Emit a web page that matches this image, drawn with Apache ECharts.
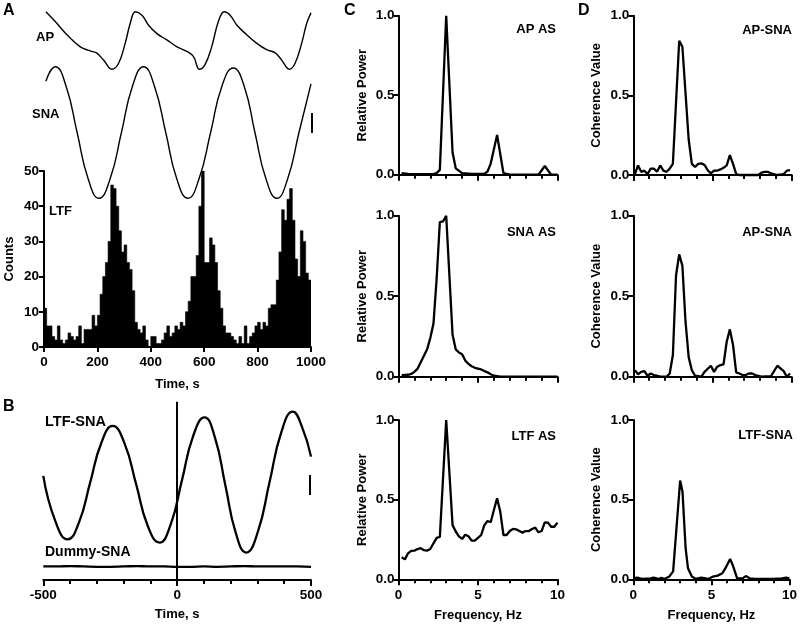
<!DOCTYPE html>
<html><head><meta charset="utf-8">
<script src="https://cdn.jsdelivr.net/npm/echarts@6/dist/echarts.min.js"></script>
<style>html,body{margin:0;padding:0;background:#fff}#c{width:800px;height:625px}</style>
</head><body><div id="c"></div>
<script>
// ---- Panel A: traces (time in s, arbitrary units) ----
const apTime = [7,42,86,136,173,198,223,254,279,304,323,342,367,391,423,460,498,535,560,582,603,628,653,675,697,722,759,797,834,865,890,919,940,965,984,1000];
const apValue = [100,83,60,39,32,28,16,0,10,45,80,100,94,77,62,51,39,31,22,0,8,39,83,100,94,77,60,45,34,29,16,0,10,45,80,98];
const snaTime = [7,42,83,124,165,206,248,290,331,373,414,456,497,539,581,624,666,709,750,790,831,872,913,955,1000];
const snaValue = [89,100,85,50,15,0,15,50,85,100,85,50,15,0,15,50,85,99,85,50,15,0,15,50,87];
// ---- Panel A: LTF histogram, 10 s bins ----
const binWidth = 10;
const ltfCounts = [
  11,6,6,3,2,6,2,1,2,4,3,2,3,6,1,5,5,5,9,6,
  9,15,20,24,30,46,45,40,33,27,29,24,22,16,7,5,4,6,2,0,
  3,3,1,1,2,4,6,3,4,6,5,7,6,10,13,20,20,26,40,50,
  24,24,31,29,24,16,11,6,4,4,3,2,1,3,1,6,1,3,4,6,
  7,5,7,6,11,12,12,19,27,39,36,42,45,36,25,20,33,30,21,19
];
const histTicks = [0,200,400,600,800,1000];
// ---- Panel B: cross-correlation ----
const lagTime = [-500,-455,-409,-367,-325,-283,-241,-197,-153,-110,-66,-24,18,60,102,141,180,219,258,301,345,389,432,466,500];
const ltfSnaCorr = [0.042,-0.085,-0.136,-0.089,0.023,0.135,0.182,0.134,0.018,-0.098,-0.145,-0.094,0.03,0.154,0.206,0.150,0.016,-0.118,-0.173,-0.116,0.024,0.164,0.222,0.180,0.096];
const dummyTime = [-500,-450,-400,-350,-300,-250,-200,-150,-100,-50,0,50,100,150,200,250,300,350,400,450,500];
const dummySnaCorr = [-0.212,-0.212,-0.211,-0.212,-0.213,-0.213,-0.212,-0.211,-0.212,-0.212,-0.213,-0.213,-0.212,-0.213,-0.212,-0.211,-0.212,-0.212,-0.212,-0.212,-0.213];
// ---- Panel C: autospectra [Hz, relative power] ----
const apAS = [[0.2,0.01],[0.6,0.005],[1.0,0.003],[1.6,0.003],[2.2,0.005],[2.4,0.01],[2.6,0.03],[3.0,1.0],[3.4,0.14],[3.6,0.04],[4.0,0.01],[4.6,0.005],[5.4,0.005],[5.6,0.02],[5.8,0.07],[6.2,0.25],[6.6,0.01],[7.0,0.0],[8.8,0.0],[9.2,0.055],[9.6,0.0],[10,0.0]];
const snaAS = [[0.2,0.01],[0.6,0.012],[0.8,0.017],[1.0,0.03],[1.2,0.05],[1.4,0.09],[1.6,0.13],[1.8,0.17],[2.0,0.24],[2.2,0.33],[2.4,0.61],[2.6,0.96],[2.8,0.965],[3.0,1.0],[3.4,0.26],[3.6,0.17],[3.8,0.15],[4.0,0.14],[4.2,0.1],[4.4,0.08],[4.6,0.065],[4.8,0.055],[5.0,0.05],[5.2,0.045],[5.4,0.035],[5.6,0.027],[5.8,0.015],[6.0,0.006],[6.4,0.001],[7.0,0],[10,0]];
const ltfAS = [[0.2,0.138],[0.4,0.125],[0.6,0.163],[0.8,0.178],[1.0,0.18],[1.2,0.19],[1.4,0.195],[1.6,0.183],[1.8,0.18],[2.0,0.19],[2.2,0.226],[2.4,0.26],[2.6,0.266],[3.0,1.0],[3.4,0.34],[3.6,0.3],[3.8,0.27],[4.0,0.253],[4.2,0.28],[4.4,0.27],[4.6,0.243],[4.8,0.243],[5.0,0.26],[5.2,0.278],[5.4,0.34],[5.6,0.366],[5.8,0.358],[6.0,0.435],[6.2,0.508],[6.4,0.425],[6.6,0.278],[6.8,0.278],[7.0,0.303],[7.2,0.316],[7.4,0.314],[7.6,0.303],[7.8,0.293],[8.0,0.303],[8.2,0.303],[8.4,0.316],[8.6,0.324],[8.8,0.295],[9.0,0.303],[9.2,0.358],[9.4,0.356],[9.6,0.33],[9.8,0.33],[10,0.356]];
// ---- Panel D: coherence [Hz, value] ----
const apSnaCoh1 = [[0.1,0.006],[0.3,0.06],[0.5,0.02],[0.7,0.027],[0.9,0.006],[1.1,0.04],[1.3,0.04],[1.5,0.02],[1.7,0.06],[1.9,0.027],[2.1,0.02],[2.3,0.04],[2.5,0.07],[2.9,0.843],[3.1,0.805],[3.5,0.22],[3.7,0.07],[3.9,0.05],[4.1,0.07],[4.3,0.073],[4.5,0.063],[4.7,0.03],[4.9,0.01],[5.1,0.027],[5.3,0.027],[5.5,0.035],[5.7,0.045],[5.9,0.06],[6.1,0.125],[6.3,0.07],[6.5,0.006],[6.7,0],[7.9,0],[8.1,0.015],[8.3,0.02],[8.5,0.02],[8.7,0.01],[9.1,0],[9.5,0.006],[9.7,0.027],[9.9,0.03]];
const apSnaCoh2 = [[0.1,0.04],[0.3,0.015],[0.5,0.03],[0.7,0.035],[0.9,0.006],[1.1,0.02],[1.3,0.01],[1.5,0.006],[1.7,0],[2.1,0],[2.3,0.02],[2.5,0.135],[2.7,0.63],[2.9,0.76],[3.1,0.69],[3.3,0.34],[3.5,0.12],[3.7,0.04],[3.9,0.006],[4.3,0],[4.5,0.03],[4.9,0.068],[5.1,0.03],[5.3,0.062],[5.5,0.072],[5.7,0.077],[5.9,0.217],[6.1,0.294],[6.3,0.197],[6.5,0.027],[6.7,0.02],[6.9,0.01],[7.1,0.01],[7.3,0.02],[7.5,0.02],[7.7,0.01],[8.1,0],[8.7,0.004],[9.1,0.068],[9.5,0.035],[9.7,0],[9.9,0.02]];
const ltfSnaCoh = [[0.0,0.006],[0.25,0.01],[0.55,0.002],[1.1,0.006],[1.3,0.01],[1.6,0.002],[1.8,0.01],[2.0,0.002],[2.3,0.017],[2.55,0.05],[3.0,0.62],[3.15,0.55],[3.35,0.195],[3.5,0.07],[3.75,0.017],[4.0,0.002],[4.35,0.01],[4.55,0.008],[4.8,0.002],[5.1,0.017],[5.4,0.023],[5.7,0.038],[5.9,0.07],[6.2,0.128],[6.4,0.08],[6.65,0.006],[7.0,0.006],[7.2,0.02],[7.45,0.006],[7.8,0.002],[8.35,0.002],[9.0,0.002],[9.5,0.006],[9.8,0.01],[10,0.006]];

const FONT = 'Liberation Sans, Arial, Helvetica, sans-serif';
const zip = (a, b) => a.map((v, i) => [v, b[i]]);
// histogram as a filled step outline: each bin's count held from its start edge to the next edge
const histSteps = ltfCounts.map((c, i) => [i * binWidth, c]).concat([[ltfCounts.length * binWidth, ltfCounts[ltfCounts.length - 1]]]);

const axLine = { show: true, onZero: false, lineStyle: { color: '#000', width: 2 } };
const axTick = { show: true, length: 5, lineStyle: { color: '#000', width: 2 } };
const lab = { color: '#000', fontFamily: FONT, fontWeight: 'bold', fontSize: 13.5 };
const nameSt = { color: '#000', fontFamily: FONT, fontWeight: 'bold', fontSize: 13 };

const grids = [
  { left: 44, top: 11.7, width: 267, height: 57.6 },   // 0 AP
  { left: 44, top: 66.7, width: 267, height: 131.6 },  // 1 SNA
  { left: 44, top: 171, width: 267, height: 176 },     // 2 hist
  { left: 43.3, top: 401.7, width: 267.7, height: 178.3 }, // 3 B
  { left: 398.5, top: 15.7, width: 159, height: 159 },  // 4 C1
  { left: 398.5, top: 215.7, width: 159, height: 161 }, // 5 C2
  { left: 398.5, top: 420, width: 159, height: 159.3 }, // 6 C3
  { left: 633.3, top: 15.7, width: 158.3, height: 159.3 }, // 7 D1
  { left: 633.3, top: 215.7, width: 158.3, height: 161 },  // 8 D2
  { left: 633.3, top: 420, width: 158.3, height: 159.3 }   // 9 D3
];

function freqX(grid, labels) {
  return {
    type: 'value', gridIndex: grid, min: 0, max: 10, interval: 5,
    axisLine: axLine, axisTick: { show: true, length: 6, lineStyle: { color: '#000', width: 2 } },
    minorTick: { show: true, splitNumber: 5, length: 4, lineStyle: { color: '#000', width: 2 } },
    splitLine: { show: false },
    axisLabel: Object.assign({ show: labels, margin: 9 }, lab),
    name: labels ? 'Frequency, Hz' : '', nameLocation: 'middle', nameGap: 30, nameTextStyle: nameSt
  };
}
function unitY(grid, title) {
  return {
    type: 'value', gridIndex: grid, min: 0, max: 1, interval: 0.5,
    axisLine: axLine, axisTick: axTick, splitLine: { show: false },
    axisLabel: Object.assign({ margin: 4, formatter: v => v.toFixed(1) }, lab),
    name: title, nameLocation: 'middle', nameGap: 30, nameRotate: 90, nameTextStyle: nameSt
  };
}
function specLine(xi, yi, data) {
  return { type: 'line', xAxisIndex: xi, yAxisIndex: yi, data: data, showSymbol: false, symbol: 'none',
    lineStyle: { color: '#000', width: 2.3 }, clip: false };
}

const xAxes = [
  { type: 'value', gridIndex: 0, min: 0, max: 1000, show: false },
  { type: 'value', gridIndex: 1, min: 0, max: 1000, show: false },
  { type: 'value', gridIndex: 2, min: histTicks[0], max: histTicks[histTicks.length - 1], interval: 200, position: 'bottom',
    axisLine: axLine, axisTick: axTick, splitLine: { show: false },
    axisLabel: Object.assign({ margin: 8, formatter: v => String(v) }, lab),
    name: 'Time, s', nameLocation: 'middle', nameGap: 31, nameTextStyle: nameSt },
  { type: 'value', gridIndex: 3, min: -500, max: 500, interval: 500,
    axisLine: axLine, axisTick: { show: true, length: 6, lineStyle: { color: '#000', width: 2 } },
    minorTick: { show: true, splitNumber: 5, length: 4, lineStyle: { color: '#000', width: 2 } },
    splitLine: { show: false }, axisLabel: Object.assign({ margin: 8, formatter: v => String(v) }, lab),
    name: 'Time, s', nameLocation: 'middle', nameGap: 28, nameTextStyle: nameSt },
  freqX(4, false), freqX(5, false), freqX(6, true),
  freqX(7, false), freqX(8, false), freqX(9, true)
];
const yAxes = [
  { type: 'value', gridIndex: 0, min: 0, max: 100, show: false },
  { type: 'value', gridIndex: 1, min: 0, max: 100, show: false },
  { type: 'value', gridIndex: 2, min: 0, max: 50, interval: 10,
    axisLine: axLine, axisTick: axTick, splitLine: { show: false },
    axisLabel: Object.assign({ margin: 5 }, lab),
    name: 'Counts', nameLocation: 'middle', nameGap: 28, nameRotate: 90, nameTextStyle: nameSt },
  { type: 'value', gridIndex: 3, min: -0.25, max: 0.25, show: false },
  unitY(4, 'Relative Power'), unitY(5, 'Relative Power'), unitY(6, 'Relative Power'),
  unitY(7, 'Coherence Value'), unitY(8, 'Coherence Value'), unitY(9, 'Coherence Value')
];

const series = [
  { type: 'line', xAxisIndex: 0, yAxisIndex: 0, data: zip(apTime, apValue), smooth: 0.4, showSymbol: false, symbol: 'none', clip: false,
    lineStyle: { color: '#000', width: 1.4 } },
  { type: 'line', xAxisIndex: 1, yAxisIndex: 1, data: zip(snaTime, snaValue), smooth: 0.5, showSymbol: false, symbol: 'none', clip: false,
    lineStyle: { color: '#000', width: 1.4 } },
  { type: 'line', xAxisIndex: 2, yAxisIndex: 2, data: histSteps, step: 'end', showSymbol: false, symbol: 'none',
    lineStyle: { color: '#000', width: 0.6 }, areaStyle: { color: '#000', opacity: 1, origin: 'start' } },
  { type: 'line', xAxisIndex: 3, yAxisIndex: 3, data: zip(lagTime, ltfSnaCorr), smooth: 0.5, showSymbol: false, symbol: 'none', clip: false,
    lineStyle: { color: '#000', width: 2.3 },
    markLine: { symbol: 'none', silent: true, label: { show: false }, lineStyle: { color: '#000', width: 2, type: 'solid' }, data: [{ xAxis: 0 }] } },
  { type: 'line', xAxisIndex: 3, yAxisIndex: 3, data: zip(dummyTime, dummySnaCorr), smooth: 0.5, showSymbol: false, symbol: 'none', clip: false,
    lineStyle: { color: '#000', width: 2.3 } },
  specLine(4, 4, apAS), specLine(5, 5, snaAS), specLine(6, 6, ltfAS),
  specLine(7, 7, apSnaCoh1), specLine(8, 8, apSnaCoh2), specLine(9, 9, ltfSnaCoh)
];

function txt(t, x, y, size, align) {
  return { type: 'text', silent: true, style: { text: t, x: x, y: y, fill: '#000',
    font: 'bold ' + size + 'px ' + FONT, textAlign: align || 'left', align: align || 'left',
    textVerticalAlign: 'middle', verticalAlign: 'middle' } };
}
function bar(x, y1, y2) {
  return { type: 'line', silent: true, shape: { x1: x, y1: y1, x2: x, y2: y2 }, style: { stroke: '#000', lineWidth: 2 } };
}
const graphic = [
  txt('A', 3, 11, 16), txt('B', 3, 407, 16), txt('C', 344, 11, 16), txt('D', 578, 11, 16),
  txt('AP', 36, 37, 13), txt('SNA', 32, 114, 13), txt('LTF', 49, 211, 13),
  txt('LTF-SNA', 45, 422, 14.5), txt('Dummy-SNA', 45, 552, 14),
  txt('AP AS', 556, 29, 13, 'right'), txt('SNA AS', 556, 232, 13, 'right'), txt('LTF AS', 556, 436, 13, 'right'),
  txt('AP-SNA', 792, 30, 13, 'right'), txt('AP-SNA', 792, 232, 13, 'right'), txt('LTF-SNA', 793, 435, 13, 'right'),
  bar(312, 113, 133), bar(310, 475, 495)
];

const chart = echarts.init(document.getElementById('c'), null, { renderer: 'canvas' });
chart.setOption({
  animation: false, backgroundColor: '#fff',
  textStyle: { fontFamily: FONT },
  grid: grids, xAxis: xAxes, yAxis: yAxes, series: series, graphic: graphic
});
</script></body></html>
